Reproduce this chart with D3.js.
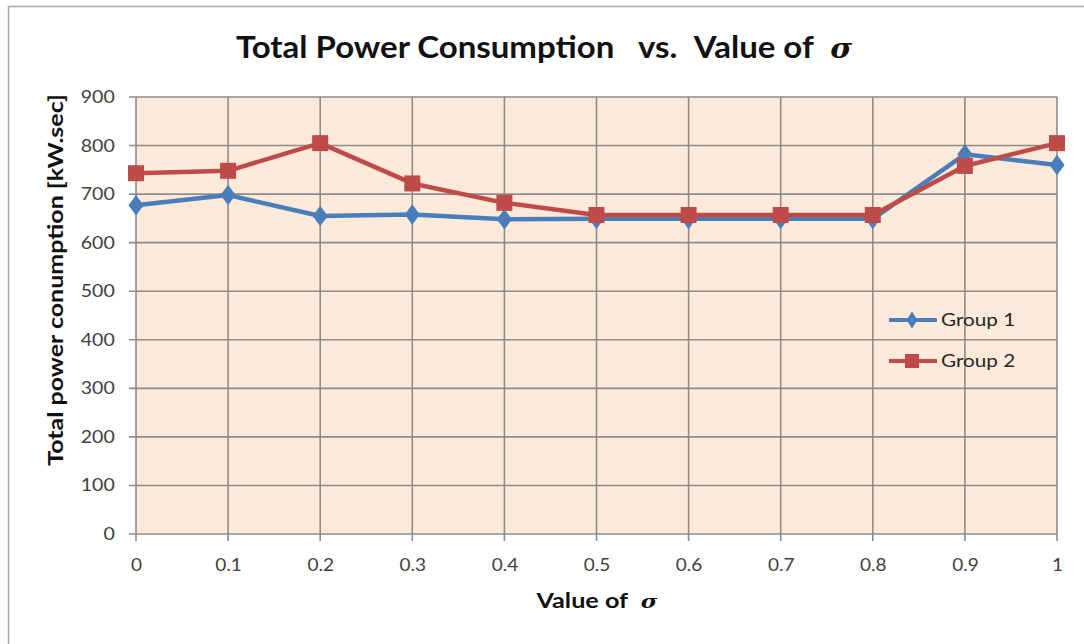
<!DOCTYPE html>
<html>
<head>
<meta charset="utf-8">
<script src="https://cdn.jsdelivr.net/npm/d3@7"></script>
<style>
body { margin: 0; background: #fff; }
text { font-family: Lato, "Open Sans", sans-serif; }
</style>
</head>
<body>
<script>
// chart values
var sigmaValues = [0, 0.1, 0.2, 0.3, 0.4, 0.5, 0.6, 0.7, 0.8, 0.9, 1];
var xTickLabels = ["0", "0.1", "0.2", "0.3", "0.4", "0.5", "0.6", "0.7", "0.8", "0.9", "1"];
var group1 = [677, 698, 655, 658, 648, 649, 649, 649, 649, 782, 760];
var group2 = [743, 748, 805, 722, 682, 657, 657, 657, 657, 758, 805];
var yTicks = [0, 100, 200, 300, 400, 500, 600, 700, 800, 900];
var seriesNames = ["Group 1", "Group 2"];

var W = 1084, H = 644;
var pLeft = 136, pRight = 1057, pTop = 97, pBottom = 534;

var svg = d3.select("body").append("svg").attr("width", W).attr("height", H);

// outer chart frame
svg.append("rect").attr("x", 8.5).attr("y", 6.5).attr("width", 1090).attr("height", 650)
  .attr("fill", "#fff").attr("stroke", "#a6a6a6").attr("stroke-width", 1.5);

var x = d3.scaleLinear().domain([0, 1]).range([pLeft, pRight]);
var y = d3.scaleLinear().domain([0, 900]).range([pBottom, pTop]);

svg.append("rect").attr("x", pLeft).attr("y", pTop).attr("width", pRight - pLeft).attr("height", pBottom - pTop)
  .attr("fill", "#fdeada");

// grid
var grid = svg.append("g").attr("stroke", "#8c8c8c").attr("stroke-width", 1.6);
grid.selectAll("line.h").data(yTicks).enter().append("line")
  .attr("x1", pLeft - 7).attr("x2", pRight).attr("y1", function (d) { return y(d); }).attr("y2", function (d) { return y(d); });
grid.selectAll("line.v").data(sigmaValues).enter().append("line")
  .attr("y1", pTop).attr("y2", pBottom + 7).attr("x1", function (d) { return x(d); }).attr("x2", function (d) { return x(d); });

// axis labels via d3 axes, lines hidden
var yAxis = svg.append("g").attr("transform", "translate(" + pLeft + ",0)")
  .call(d3.axisLeft(y).tickValues(yTicks).tickSize(0).tickPadding(21));
yAxis.select(".domain").remove();
yAxis.selectAll("text").attr("font-size", 17).attr("fill", "#404040").attr("font-family", "Lato, sans-serif")
  .attr("transform", "scale(1.15,1)").attr("x", -18.5);

var xAxis = svg.append("g").attr("transform", "translate(0," + pBottom + ")")
  .call(d3.axisBottom(x).tickValues(sigmaValues).tickFormat(function (d, i) { return xTickLabels[i]; }).tickSize(0).tickPadding(25));
xAxis.select(".domain").remove();
xAxis.selectAll("text").attr("font-size", 17).attr("fill", "#404040").attr("font-family", "Lato, sans-serif")
  .attr("transform", "scale(1.12,1)");

// series
var colors = ["#4a7ebb", "#be4b48"];
var data = [group1, group2];
var line = d3.line().x(function (d, i) { return x(sigmaValues[i]); }).y(function (d) { return y(d); });

data.forEach(function (vals, s) {
  svg.append("path").datum(vals).attr("d", line).attr("fill", "none")
    .attr("stroke", colors[s]).attr("stroke-width", 4.5).attr("stroke-linejoin", "round");
});
var diamond = d3.symbol().type(d3.symbolDiamond).size(150);
svg.append("g").selectAll("path").data(group1).enter().append("path")
  .attr("d", diamond)
  .attr("transform", function (d, i) { return "translate(" + x(sigmaValues[i]) + "," + y(d) + ") scale(1.15,0.9)"; })
  .attr("fill", colors[0]);
svg.append("g").selectAll("rect").data(group2).enter().append("rect")
  .attr("x", function (d, i) { return x(sigmaValues[i]) - 8; }).attr("y", function (d) { return y(d) - 8; })
  .attr("width", 16).attr("height", 16).attr("fill", colors[1]);

// legend
var leg = svg.append("g");
seriesNames.forEach(function (n, s) {
  var ly = 320 + s * 41;
  leg.append("line").attr("x1", 889).attr("x2", 937).attr("y1", ly).attr("y2", ly)
    .attr("stroke", colors[s]).attr("stroke-width", 4);
  if (s === 0) {
    leg.append("path").attr("d", diamond).attr("transform", "translate(912," + ly + ") scale(0.85,0.75)").attr("fill", colors[0]);
  } else {
    leg.append("rect").attr("x", 905).attr("y", ly - 7).attr("width", 14).attr("height", 14).attr("fill", colors[1]);
  }
  leg.append("text").attr("transform", "translate(941," + (ly + 6) + ") scale(1.15,1)")
    .attr("font-size", 18).attr("fill", "#262626").text(n);
});

// title
var title = svg.append("text").attr("transform", "translate(544,58) scale(1.1,1)").attr("text-anchor", "middle")
  .attr("font-size", 30).attr("font-weight", "bold").attr("fill", "#111");
title.append("tspan").text("Total Power Consumption\u2002 vs.\u2002Value of\u2002");
title.append("tspan").attr("font-style", "italic").attr("font-family", "'DejaVu Serif', serif").attr("font-size", 27).text("\u03c3");

// x axis title
var xt = svg.append("text").attr("transform", "translate(597,608) scale(1.2,1)").attr("text-anchor", "middle")
  .attr("font-size", 21).attr("font-weight", "bold").attr("fill", "#111");
xt.append("tspan").text("Value of\u2002");
xt.append("tspan").attr("font-style", "italic").attr("font-family", "'DejaVu Serif', serif").attr("font-size", 19).text("\u03c3");

// y axis title
svg.append("text").attr("transform", "translate(63,280) rotate(-90) scale(1.25,1)").attr("text-anchor", "middle")
  .attr("font-size", 20).attr("font-weight", "bold").attr("fill", "#111")
  .text("Total power conumption  [kW.sec]");
</script>
</body>
</html>
